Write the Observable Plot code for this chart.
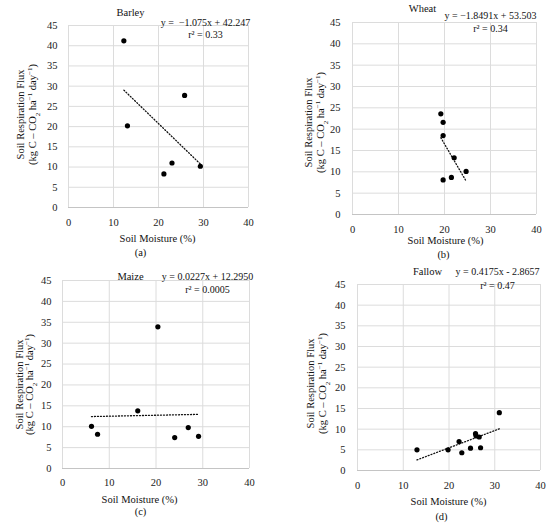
<!DOCTYPE html>
<html>
<head>
<meta charset="utf-8">
<script src="https://cdn.jsdelivr.net/npm/d3@7"></script>
<script src="https://cdn.jsdelivr.net/npm/@observablehq/plot@0.6"></script>
<style>
  body { margin: 0; background: #fff; }
  #chart { position: relative; width: 550px; height: 524px; }
  #chart svg { position: absolute; overflow: visible; }
  #chart svg, #chart svg text { font-family: "Liberation Serif", "DejaVu Serif", serif !important; }
</style>
</head>
<body>
<div id="chart"></div>
<script>
// soil moisture (%) vs respiration flux
const barleyMoisture = [12.3, 13.1, 21.2, 23.0, 25.8, 29.3];
const barleyFlux     = [41.2, 20.2, 8.3, 11.0, 27.7, 10.2];
const wheatMoisture  = [19.2, 19.7, 19.7, 22.1, 24.7, 21.5, 19.7];
const wheatFlux      = [23.6, 21.6, 18.5, 13.3, 10.1, 8.7, 8.1];
const maizeMoisture  = [6.2, 7.5, 16.1, 20.4, 24.0, 26.9, 29.1];
const maizeFlux      = [10.1, 8.2, 13.8, 33.9, 7.4, 9.8, 7.7];
const fallowMoisture = [13.0, 19.8, 22.2, 22.8, 24.7, 25.8, 25.9, 26.6, 26.9, 31.0];
const fallowFlux     = [5.0, 5.0, 7.0, 4.3, 5.4, 8.9, 8.4, 8.1, 5.5, 14.0];

const crops = ["Barley", "Wheat", "Maize", "Fallow"];
const panelTags = ["(a)", "(b)", "(c)", "(d)"];
const slopes = [-1.075, -1.8491, 0.0227, 0.4175];
const intercepts = [42.247, 53.503, 12.2950, -2.8657];
const equations = ["y =  \u22121.075x + 42.247", "y = \u22121.8491x + 53.503", "y = 0.0227x + 12.2950", "y = 0.4175x - 2.8657"];
const rSquared = ["r\u00b2 = 0.33", "r\u00b2 = 0.34", "r\u00b2 = 0.0005", "r\u00b2 = 0.47"];
const xTicks = [0, 10, 20, 30, 40];
const yTicks = [0, 5, 10, 15, 20, 25, 30, 35, 40, 45];
const xLabel = "Soil Moisture (%)";
const yLabel1 = "Soil Respiration Flux";
// second y label line, pieces tagged for sub/superscript
const yLabel2Parts = [["(kg C \u2013 CO", ""], ["2", "sub"], [" ha", ""], ["\u22121", "super"], [" day", ""], ["\u22121", "super"], [")", ""]];
const yLabel2 = yLabel2Parts.map(p => p[0]).join("");

const moistures = [barleyMoisture, wheatMoisture, maizeMoisture, fallowMoisture];
const fluxes = [barleyFlux, wheatFlux, maizeFlux, fallowFlux];

// where each panel sits and where its texts go (px, local to the panel)
const layout = [
  {left: 0,   top: 0,   ml: 68, mr: 27, mt: 25, mb: 55, title: [130, 12], eq: [205, 22], r2: [205, 34], xl: [157, 238], tag: [140, 252], yl: [20, 32, 114], px: 11, py: 11},
  {left: 275, top: 0,   ml: 77, mr: 14, mt: 22, mb: 48, title: [147, 8],  eq: [215, 15], r2: [215, 28], xl: [170, 240], tag: [168, 254], yl: [33, 45, 122], px: 11, py: 12},
  {left: 0,   top: 262, ml: 62, mr: 26, mt: 18, mb: 56, title: [130, 14], eq: [207, 14], r2: [207, 27], xl: [139, 237], tag: [140, 249], yl: [19, 29, 122], px: 10, py: 11},
  {left: 275, top: 262, ml: 82, mr: 10, mt: 22, mb: 54, title: [152, 9],  eq: [222, 9],  r2: [222, 23], xl: [173, 239], tag: [166, 254], yl: [35, 47, 121], px: 11, py: 12},
]

function label(str, x, y, L, opts = {}) {
  return Plot.text([str], {
    text: d => d,
    frameAnchor: "top-left",
    dx: x - L.ml,
    dy: y - L.mt,
    textAnchor: "middle",
    lineAnchor: "middle",
    fill: "#111",
    fontSize: 10.5,
    ...opts
  })
}

crops.forEach((crop, i) => {
  const L = layout[i]
  const xs = moistures[i]
  const ys = fluxes[i]
  const ends = [d3.min(xs), d3.max(xs)]

  const svg = Plot.plot({
    width: 275,
    height: 262,
    marginLeft: L.ml,
    marginRight: L.mr,
    marginTop: L.mt,
    marginBottom: L.mb,
    x: {domain: [0, 40]},
    y: {domain: [0, 45]},
    marks: [
      Plot.gridX(xTicks, {stroke: "#dcdcdc", strokeOpacity: 1}),
      Plot.gridY(yTicks, {stroke: "#dcdcdc", strokeOpacity: 1}),
      Plot.ruleY([0], {stroke: "#c4c4c4"}),
      Plot.axisX(xTicks, {tickSize: 0, tickPadding: L.px, label: null, fill: "#222", fontSize: 10.5}),
      Plot.axisY(yTicks, {tickSize: 0, tickPadding: L.py, label: null, fill: "#222", fontSize: 10.5}),
      Plot.line(ends, {
        x: d => d,
        y: d => slopes[i] * d + intercepts[i],
        stroke: "#111",
        strokeWidth: 1.3,
        strokeDasharray: "1,2"
      }),
      Plot.dot(ys, {x: xs, y: ys, r: 2.6, fill: "#000"}),
      label(crop, L.title[0], L.title[1], L),
      label(equations[i], L.eq[0], L.eq[1], L, {fontSize: 10}),
      label(rSquared[i], L.r2[0], L.r2[1], L, {fontSize: 10}),
      label(xLabel, L.xl[0], L.xl[1], L),
      label(panelTags[i], L.tag[0], L.tag[1], L),
      label(yLabel1, L.yl[0], L.yl[2], L, {rotate: -90}),
      label(yLabel2, L.yl[1], L.yl[2], L, {rotate: -90}),
    ]
  })
  d3.select(svg).style("left", L.left + "px").style("top", L.top + "px")

  // rebuild the unit label with real sub/superscripts
  d3.select(svg).selectAll("text").filter(function() { return this.textContent === yLabel2 })
    .each(function() {
      const t = d3.select(this).text(null)
      yLabel2Parts.forEach(([s, shift]) => {
        const ts = t.append("tspan").text(s)
        if (shift) ts.attr("baseline-shift", shift).attr("font-size", 7)
      })
    })

  document.getElementById("chart").append(svg)
})
</script>
</body>
</html>
